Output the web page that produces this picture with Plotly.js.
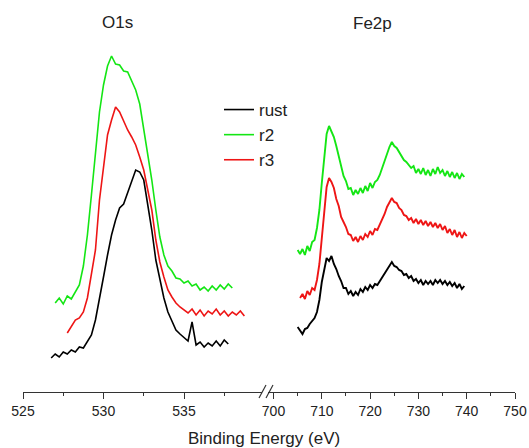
<!DOCTYPE html>
<html>
<head>
<meta charset="utf-8">
<script src="https://cdn.plot.ly/plotly-3.0.1.min.js"></script>
<style>
  html, body { margin: 0; padding: 0; background: #fff; }
  #chart { width: 529px; height: 448px; }
</style>
</head>
<body>
<div id="chart"></div>
<script>
// ---------------- data ----------------
const seriesNames = ["rust", "r2", "r3"];
const seriesColors = ["#000000", "#14e614", "#ee1515"];

// O1s region (binding energy, eV)
const energyO1sRust = [526.75,527,527.25,527.5,527.75,528,528.25,528.5,528.75,529,529.25,529.5,529.75,530,530.25,530.5,530.75,531,531.25,531.5,531.75,532,532.25,532.5,532.75,533,533.25,533.5,533.75,534,534.25,534.5,534.75,535,535.25,535.5,535.75,536,536.25,536.5,536.75,537,537.25,537.5,537.75];
const intensityO1sRust = [34,38,35,40,38,42,40,45,44,50,57,72,92,115,137,157,172,184,188,200,210,222,220,212,187,162,132,112,94,80,70,62,58,54,51,70,47,50,45,49,46,51,46,52,48];

const energyO1sR2 = [527,527.25,527.5,527.75,528,528.25,528.5,528.75,529,529.25,529.5,529.75,530,530.25,530.5,530.75,531,531.25,531.5,531.75,532,532.25,532.5,532.75,533,533.25,533.5,533.75,534,534.25,534.5,534.75,535,535.25,535.5,535.75,536,536.25,536.5,536.75,537,537.25,537.5,537.75,538];
const intensityO1sR2 = [89,94,88,96,93,100,107,126,157,197,240,280,307,326,336,328,327,321,320,311,302,288,262,240,212,182,155,137,126,121,114,113,109,111,106,108,102,105,101,106,102,107,103,108,104];

const energyO1sR3 = [527.75,528,528.25,528.5,528.75,529,529.25,529.5,529.75,530,530.25,530.5,530.75,531,531.25,531.5,531.75,532,532.25,532.5,532.75,533,533.25,533.5,533.75,534,534.25,534.5,534.75,535,535.25,535.5,535.75,536,536.25,536.5,536.75,537,537.25,537.5,537.75,538,538.25,538.5,538.75];
const intensityO1sR3 = [59,65,72,74,80,94,117,142,192,224,257,272,285,280,270,262,255,247,235,222,202,182,152,130,115,102,95,89,85,82,79,83,77,82,76,81,78,83,77,81,76,80,77,81,76];

// Fe2p region (binding energy, eV)
const energyFe = [705,705.5,706,706.5,707,707.5,708,708.5,709,709.5,710,710.5,711,711.5,712,712.5,713,713.5,714,714.5,715,715.5,716,716.5,717,717.5,718,718.5,719,719.5,720,720.5,721,721.5,722,722.5,723,723.5,724,724.5,725,725.5,726,726.5,727,727.5,728,728.5,729,729.5,730,730.5,731,731.5,732,732.5,733,733.5,734,734.5,735,735.5,736,736.5,737,737.5,738,738.5,739,739.5];
const intensityFeRust = [65,61,58,63,64,68,71,74,80,92,110,124,134,131,136,128,123,116,111,104,104,98,101,96,100,97,103,100,105,102,107,104,108,107,111,114,118,123,126,130,126,125,122,121,117,118,114,116,111,113,109,112,107,111,108,111,107,112,109,112,108,111,107,110,106,109,104,108,103,106];
const intensityFeR2 = [142,138,143,137,146,141,150,152,164,182,209,236,258,266,260,255,246,236,228,216,211,203,204,197,202,198,204,199,206,201,209,204,210,212,217,224,231,240,245,250,246,244,240,236,232,230,227,224,226,219,223,218,224,217,222,216,223,218,225,219,222,216,221,215,220,214,219,213,218,215];
const energyFeR3 = [705.5,706,706.5,707,707.5,708,708.5,709,709.5,710,710.5,711,711.5,712,712.5,713,713.5,714,714.5,715,715.5,716,716.5,717,717.5,718,718.5,719,719.5,720,720.5,721,721.5,722,722.5,723,723.5,724,724.5,725,725.5,726,726.5,727,727.5,728,728.5,729,729.5,730,730.5,731,731.5,732,732.5,733,733.5,734,734.5,735,735.5,736,736.5,737,737.5,738,738.5,739,739.5,740];
const intensityFeR3 = [94,98,93,101,97,104,102,112,128,156,184,205,214,210,204,193,186,175,170,165,158,157,151,155,150,156,152,158,155,161,157,163,162,167,172,178,185,189,194,190,189,184,182,177,176,172,174,169,173,168,172,167,171,166,170,165,169,164,168,162,166,159,163,157,162,155,160,154,159,156];

const panelTitles = ["O1s", "Fe2p"];
const axisTitle = "Binding Energy (eV)";

// ---------------- layout geometry ----------------
const W = 529, H = 448;
const M = { l: 23, r: 14, t: 30, b: 56 };
const PW = W - M.l - M.r, PH = H - M.t - M.b;
const px2paperX = p => (p - M.l) / PW;
const px2paperY = p => (H - M.b - p) / PH;

const FONT = "Liberation Sans, Arial, Helvetica, sans-serif";
const lineW = 1.6;

const o1sSets = [
  [energyO1sRust, intensityO1sRust],
  [energyO1sR2, intensityO1sR2],
  [energyO1sR3, intensityO1sR3]
];
const feSets = [
  [energyFe, intensityFeRust],
  [energyFe, intensityFeR2],
  [energyFeR3, intensityFeR3]
];

const traces = [];
seriesNames.forEach((name, i) => {
  traces.push({
    x: o1sSets[i][0], y: o1sSets[i][1], type: "scatter", mode: "lines",
    name: name, legendgroup: name, xaxis: "x", yaxis: "y",
    line: { color: seriesColors[i], width: lineW }
  });
});
seriesNames.forEach((name, i) => {
  traces.push({
    x: feSets[i][0], y: feSets[i][1], type: "scatter", mode: "lines",
    name: name, legendgroup: name, showlegend: false, xaxis: "x2", yaxis: "y",
    line: { color: seriesColors[i], width: lineW + 0.3 }
  });
});

const axisCommon = {
  showgrid: false, zeroline: false, showline: true,
  linecolor: "#333", linewidth: 1,
  ticks: "outside", ticklen: 6, tickwidth: 1, tickcolor: "#333",
  tickfont: { family: FONT, size: 14, color: "#222" },
  anchor: "y", fixedrange: true
};

const layout = {
  width: W, height: H,
  margin: M,
  paper_bgcolor: "#fff", plot_bgcolor: "#fff",
  font: { family: FONT, color: "#222" },
  showlegend: true,
  legend: {
    x: px2paperX(219), y: px2paperY(92), xanchor: "left", yanchor: "top",
    font: { family: FONT, size: 17, color: "#222" },
    bgcolor: "rgba(0,0,0,0)", borderwidth: 0, tracegroupgap: 0
  },
  xaxis: Object.assign({}, axisCommon, {
    domain: [0, px2paperX(262)],
    range: [525, 525 + (262 - M.l) / 16.1],
    tick0: 525, dtick: 5,
    minor: { dtick: 2.5, ticks: "outside", ticklen: 3, tickcolor: "#333", showgrid: false }
  }),
  xaxis2: Object.assign({}, axisCommon, {
    domain: [px2paperX(268), 1],
    range: [750 - (W - M.r - 268) / 4.83, 750],
    tick0: 700, dtick: 10,
    minor: { dtick: 5, ticks: "outside", ticklen: 3, tickcolor: "#333", showgrid: false }
  }),
  yaxis: { visible: false, range: [0, PH], fixedrange: true },
  annotations: [
    { text: panelTitles[0], xref: "paper", yref: "paper", x: px2paperX(117), y: px2paperY(22),
      xanchor: "center", yanchor: "middle", showarrow: false,
      font: { family: FONT, size: 17, color: "#222" } },
    { text: panelTitles[1], xref: "paper", yref: "paper", x: px2paperX(372), y: px2paperY(23),
      xanchor: "center", yanchor: "middle", showarrow: false,
      font: { family: FONT, size: 17, color: "#222" } },
    { text: axisTitle, xref: "paper", yref: "paper", x: px2paperX(264), y: px2paperY(438),
      xanchor: "center", yanchor: "middle", showarrow: false,
      font: { family: FONT, size: 17, color: "#222" } }
  ],
  shapes: [
    { type: "line", xref: "paper", yref: "paper",
      x0: px2paperX(259), y0: px2paperY(398), x1: px2paperX(266), y1: px2paperY(385),
      line: { color: "#333", width: 1.2 } },
    { type: "line", xref: "paper", yref: "paper",
      x0: px2paperX(266), y0: px2paperY(398), x1: px2paperX(273), y1: px2paperY(385),
      line: { color: "#333", width: 1.2 } }
  ]
};

Plotly.newPlot("chart", traces, layout, { staticPlot: true, displayModeBar: false });
</script>
</body>
</html>
